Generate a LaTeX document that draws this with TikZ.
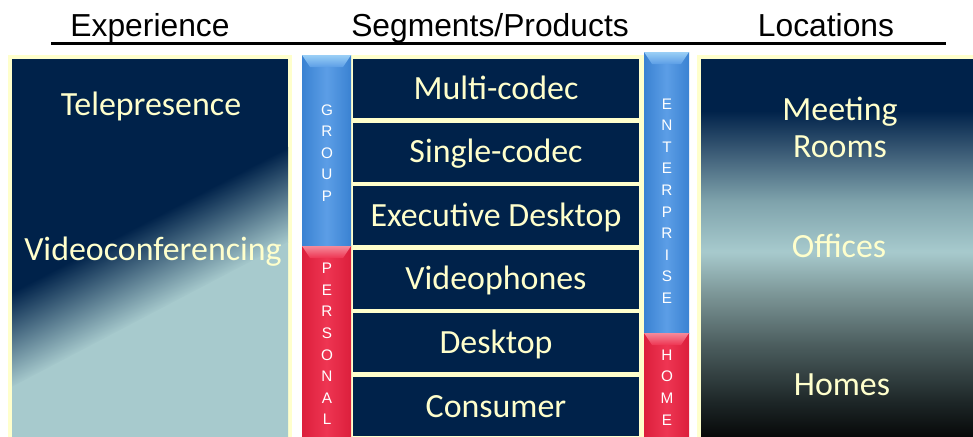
\documentclass[tikz,border=0pt]{standalone}
\usepackage{fontspec}
\setmainfont{Carlito}
\newfontfamily\headfont{Liberation Sans}
\usetikzlibrary{positioning}

\definecolor{navy}{HTML}{00224A}
\definecolor{cream}{HTML}{FFFFCC}
\definecolor{mist}{HTML}{A7CACD}
\definecolor{barblue}{HTML}{3A82D2}
\definecolor{barbluelt}{HTML}{5C9EE6}
\definecolor{barbluetop}{HTML}{9ACFF6}
\definecolor{barred}{HTML}{DC1F3C}
\definecolor{barredlt}{HTML}{EE3552}
\definecolor{barredtop}{HTML}{F58A9A}
\definecolor{locA}{HTML}{050606}
\definecolor{locB}{HTML}{1C2526}
\definecolor{locC}{HTML}{4D5F60}
\definecolor{locD}{HTML}{7E9899}
\definecolor{locE}{HTML}{7FA3AC}
\definecolor{locF}{HTML}{3A5A75}

\pgfdeclareverticalshading{locshade}{100bp}{color(0bp)=(locA); color(25bp)=(locA);
	color(29.8bp)=(locB); color(37.7bp)=(locC); color(44.4bp)=(locD);
	color(49.7bp)=(mist); color(56.3bp)=(locE); color(62.9bp)=(locF);
	color(68.2bp)=(navy); color(100bp)=(navy)}

\tikzset{
	headtxt/.style={font=\headfont\fontsize{18.1}{22}\selectfont, anchor=base},
	boxtxt/.style={font=\fontsize{19.3}{21}\selectfont, text=cream, anchor=base},
	segbox/.style={fill=navy, text=cream, inner sep=0pt, minimum width=5.72cm,
		minimum height=1.18cm, text height=15pt, text depth=3pt,
		font=\fontsize{19.3}{23}\selectfont},
	bartxt/.style={font=\headfont\fontsize{8.7}{12.3}\selectfont, text=white,
		align=center, inner sep=0pt},
	bluebar/.style={left color=barblue, right color=barblue, middle color=barbluelt},
	redbar/.style={left color=barred, right color=barred, middle color=barredlt}
}

\begin{document}
\begin{tikzpicture}[x=0.02cm,y=-0.02cm]
		\useasboundingbox (0,0) rectangle (973,436);
		% headings
		\node[headtxt] (experience) at (150,36.5) {Experience};
		\node[headtxt] (segments) at (490,36.5) {Segments/Products};
		\node[headtxt] (locations) at (826,36.5) {Locations};
		\coordinate (rulestart) at (51,43.5);
		\coordinate (ruleend) at (946,43.5);
		\draw[line width=1.8pt] (rulestart)--(ruleend);

		% experience box
		\fill[cream] (8,55) rectangle (292,440);
		\begin{scope}
		\clip (12,59) rectangle (288,440);
		\fill[navy] (12,59) rectangle (288,440);
			\begin{scope}[transform canvas={rotate around={27.7:(150,267.5)}}]
			\shade[top color=navy, bottom color=mist] (-200,225) rectangle (500,310);
			\fill[mist] (-200,309) rectangle (500,700);
			\end{scope}
		\end{scope}
		\node[boxtxt] (tele) at (151,115) {Telepresence};
		\node[boxtxt] (video) at (153,260) {Videoconferencing};

		% segments
		\fill[cream] (351,55) rectangle (644,440);
		\foreach \name/\txt [count=\i from 0] in {multi/Multi-codec, single/Single-codec,
			exec/Executive Desktop, phones/Videophones, desk/Desktop, consumer/Consumer}
			\node[segbox] (\name) at (496,88.5+63.6*\i) {\txt};

		% bars
		\shade[bluebar] (302,55) rectangle (351,246);
		\shade[top color=barbluetop, bottom color=barbluelt] (302,55)--(351,55)--(343,67)--(310,67)--cycle;
		\shade[redbar] (302,246) rectangle (351,440);
		\shade[top color=barredtop, bottom color=barredlt] (302,246)--(351,246)--(343,258)--(310,258)--cycle;
		\shade[bluebar] (644,52) rectangle (689,333);
		\shade[top color=barbluetop, bottom color=barbluelt] (644,52)--(689,52)--(681,64)--(652,64)--cycle;
		\shade[redbar] (644,333) rectangle (689,440);
		\shade[top color=barredtop, bottom color=barredlt] (644,333)--(689,333)--(681,345)--(652,345)--cycle;
		\node[bartxt] (grouptxt) at (327,153) {G\\R\\O\\U\\P};
		\node[bartxt] (personaltxt) at (327,344) {P\\E\\R\\S\\O\\N\\A\\L};
		\node[bartxt] (enterprisetxt) at (667,201) {E\\N\\T\\E\\R\\P\\R\\I\\S\\E};
		\node[bartxt] (hometxt) at (667,387.5) {H\\O\\M\\E};

		% locations box
		\fill[cream] (697,55) rectangle (980,440);
		\shade[shading=locshade] (701,59) rectangle (980,440);
		\node[boxtxt, align=center] (meeting) at (840,157) {Meeting\\Rooms};
		\node[boxtxt] (offices) at (839,257) {Offices};
		\node[boxtxt] (homes) at (842,395) {Homes};
\end{tikzpicture}
\end{document}
